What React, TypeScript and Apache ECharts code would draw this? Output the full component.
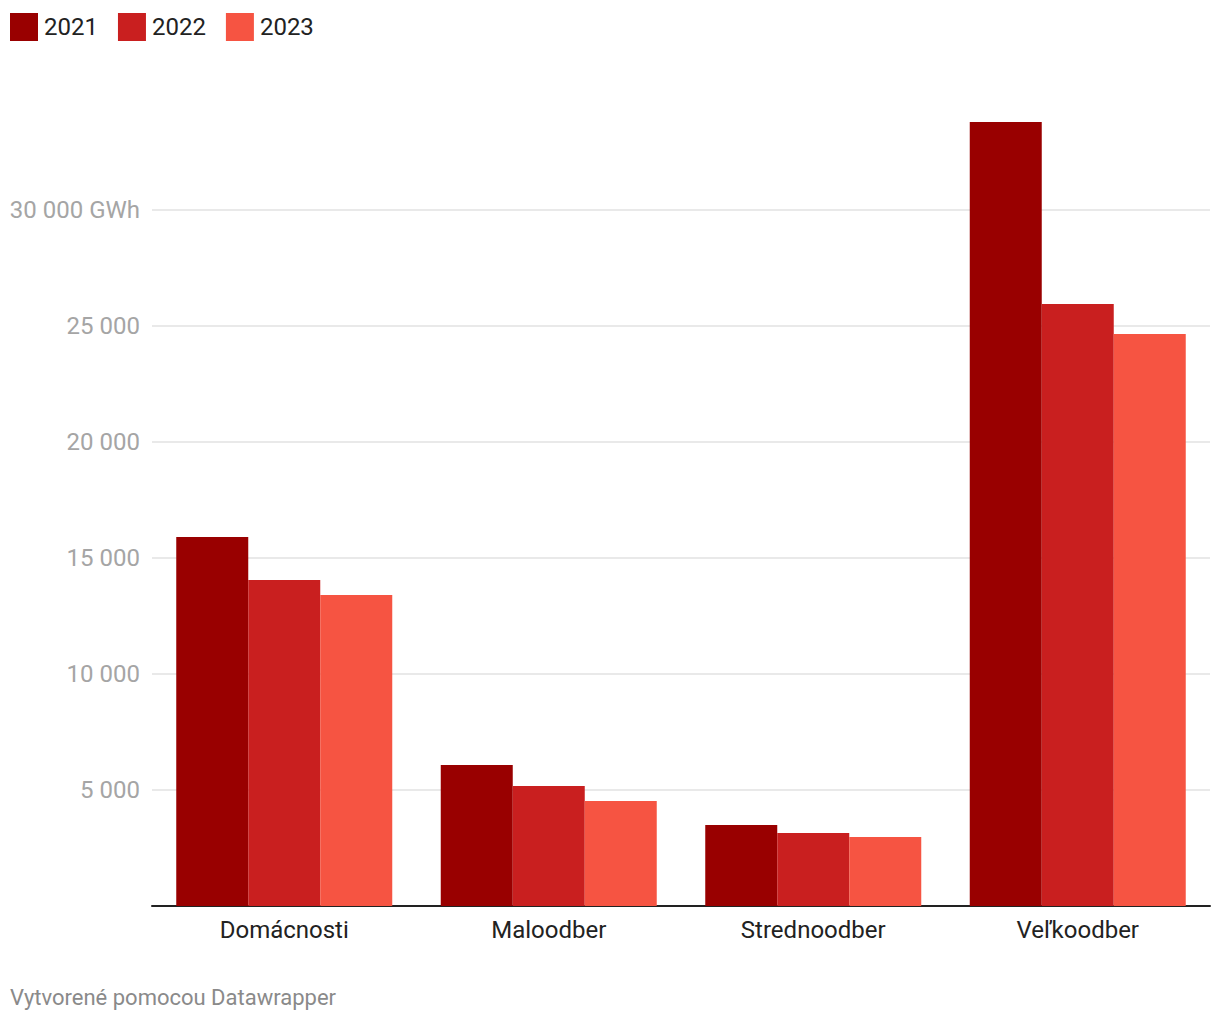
import React, { useEffect, useRef } from "react";
import * as echarts from "echarts";

const categories = ["Domácnosti", "Maloodber", "Strednoodber", "Veľkoodber"];
const years = ["2021", "2022", "2023"];
const values2021 = [15900, 6080, 3490, 33790];
const values2022 = [14050, 5170, 3150, 25950];
const values2023 = [13400, 4530, 2970, 24660];
const colors = ["#990000", "#c91f1f", "#f65442"];
const yTicks = [0, 5000, 10000, 15000, 20000, 25000, 30000];

const FONT = "Roboto, 'Noto Sans', sans-serif";

function fmt(v: number) {
  if (v === 0) return "";
  const s = String(v).replace(/\B(?=(\d{3})+(?!\d))/g, " ");
  return v === 30000 ? s + " GWh" : s;
}

export default function App() {
  const ref = useRef<HTMLDivElement>(null);
  useEffect(() => {
    if (!ref.current) return;
    const chart = echarts.init(ref.current, undefined, { renderer: "svg" });
    const series = [values2021, values2022, values2023].map((d, i) => ({
      name: years[i],
      type: "bar",
      data: d,
      barWidth: 72,
      barGap: "0%",
      clip: false,
      itemStyle: { color: colors[i] },
    }));
    chart.setOption({
      animation: false,
      textStyle: { fontFamily: FONT },
      legend: {
        left: 5,
        top: 8,
        itemWidth: 28,
        itemHeight: 28,
        itemGap: 20,
        icon: "rect",
        textStyle: { fontSize: 24, color: "#222", fontFamily: FONT, padding: [0, 0, 0, 1] },
        data: years,
      },
      grid: { left: 152, right: 10, top: 210, bottom: 114, containLabel: false },
      xAxis: {
        type: "category",
        data: categories,
        axisLine: { lineStyle: { color: "#222", width: 2 } },
        axisTick: { show: false },
        axisLabel: { fontSize: 24, color: "#222", margin: 12, fontFamily: FONT },
      },
      yAxis: {
        type: "value",
        min: yTicks[0],
        max: yTicks[yTicks.length - 1],
        interval: 5000,
        axisLine: { show: false },
        axisTick: { show: false },
        splitLine: { lineStyle: { color: "#e2e2e2", width: 1.5 } },
        axisLabel: {
          fontSize: 24,
          color: "#a5a5a5",
          margin: 12,
          fontFamily: FONT,
          formatter: (v: number) => fmt(v),
        },
      },
      graphic: [
        {
          type: "text",
          left: 10,
          top: 986,
          style: { text: "Vytvorené pomocou Datawrapper", fontSize: 22, fill: "#8a8a8a", fontFamily: FONT },
        },
      ],
      series,
    });
    return () => chart.dispose();
  }, []);
  return <div ref={ref} style={{ width: 1220, height: 1020, position: "absolute", left: 0, top: 0 }} />;
}
